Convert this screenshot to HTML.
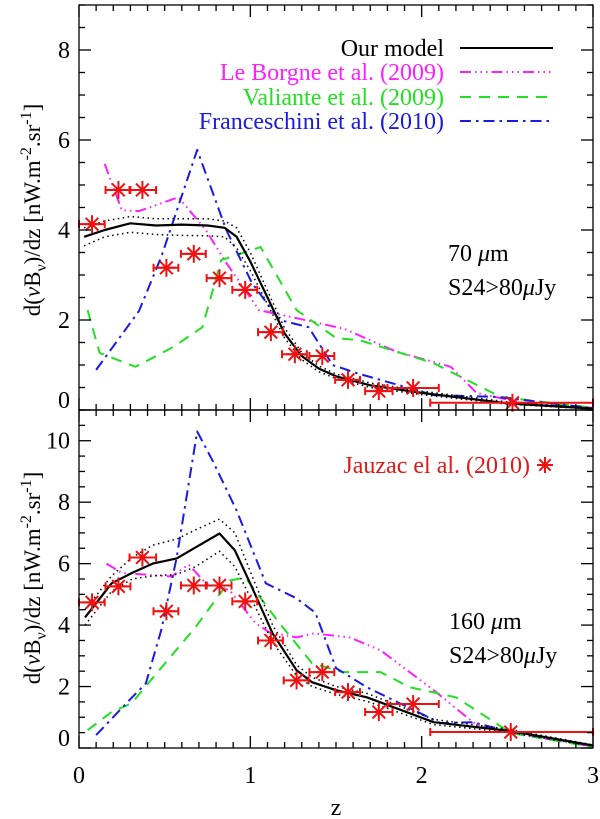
<!DOCTYPE html>
<html><head><meta charset="utf-8">
<style>
html,body{margin:0;padding:0;background:#fff;}
svg{display:block;font-family:"Liberation Serif",serif;}
</style></head>
<body>
<svg id="chart" width="600" height="819" viewBox="0 0 600 819" xmlns="http://www.w3.org/2000/svg"></svg>
<script>
// ---- Data: top panel (70 um) ----
const topModelZ = [0.03,0.15,0.3,0.45,0.6,0.75,0.85,0.92,1.0,1.1,1.2,1.3,1.4,1.5,1.7,2.0,2.5,3.0];
const topModelV = [3.85,4.0,4.15,4.1,4.12,4.1,4.05,3.85,3.3,2.5,1.7,1.2,0.92,0.75,0.55,0.38,0.15,0.03];
const topModelHi = [4.05,4.2,4.3,4.25,4.25,4.25,4.2,4.05,3.5,2.65,1.82,1.28,0.98,0.8,0.6,0.42,0.18,0.04];
const topModelLo = [3.65,3.85,3.95,3.9,3.88,3.87,3.85,3.6,3.1,2.35,1.6,1.12,0.85,0.7,0.5,0.34,0.13,0.02];
const topLeBorgneZ = [0.15,0.25,0.35,0.58,0.74,0.86,1.05,1.32,1.55,1.85,2.17,2.32,2.6,3.0];
const topLeBorgneV = [5.47,4.44,4.42,4.73,4.0,3.27,2.22,2.0,1.8,1.3,0.96,0.38,0.15,0.05];
const topValianteZ = [0.05,0.12,0.33,0.55,0.72,0.83,1.06,1.27,1.5,1.64,2.07,2.46,3.0];
const topValianteV = [2.22,1.27,0.96,1.4,1.84,3.33,3.62,2.22,1.6,1.55,1.04,0.29,0.05];
const topFranceZ = [0.1,0.35,0.48,0.69,0.86,1.01,1.17,1.34,1.48,1.62,2.07,2.44,3.0];
const topFranceV = [0.89,2.2,3.4,5.78,4.0,2.82,2.0,1.84,1.0,0.82,0.33,0.29,0.04];
const topJauzacZ = [0.076,0.23,0.37,0.51,0.67,0.82,0.97,1.12,1.26,1.42,1.57,1.75,1.95,2.53];
const topJauzacV = [4.13,4.89,4.89,3.16,3.47,2.93,2.67,1.73,1.24,1.2,0.67,0.42,0.49,0.16];
const topJauzacLo = [0.0,0.155,0.295,0.435,0.595,0.745,0.895,1.045,1.185,1.345,1.495,1.67,1.8,2.05];
const topJauzacHi = [0.15,0.3,0.45,0.58,0.74,0.89,1.04,1.19,1.33,1.49,1.64,1.83,2.1,3.0];
// ---- Data: bottom panel (160 um) ----
const botModelZ = [0.035,0.19,0.31,0.43,0.57,0.68,0.82,0.91,1.01,1.13,1.27,1.36,1.5,1.68,2.07,2.52,3.0];
const botModelV = [4.25,5.36,5.7,6.0,6.17,6.53,6.98,6.43,5.23,3.73,2.53,2.14,1.88,1.65,0.84,0.55,0.08];
const botModelHi = [4.5,5.6,6.2,6.6,6.8,7.1,7.45,7.0,5.6,4.0,2.7,2.3,2.0,1.78,0.93,0.6,0.1];
const botModelLo = [4.0,5.1,5.5,5.6,5.65,5.9,6.4,5.9,4.8,3.45,2.35,2.0,1.75,1.52,0.76,0.5,0.06];
const botLeBorgneZ = [0.16,0.25,0.54,0.64,0.74,0.88,1.03,1.11,1.27,1.37,1.58,1.76,2.07,2.32,2.52,3.0];
const botLeBorgneV = [6.0,5.7,5.58,5.97,5.36,5.13,4.06,3.77,3.6,3.73,3.6,3.18,1.88,0.75,0.49,0.05];
const botValianteZ = [0.05,0.19,0.31,0.37,0.68,0.88,0.97,1.17,1.36,1.54,1.76,1.93,2.2,2.38,2.52,3.0];
const botValianteV = [0.58,1.17,1.46,1.88,3.93,5.45,5.55,4.06,2.76,2.47,2.47,1.98,1.65,1.0,0.49,0.03];
const botFranceZ = [0.1,0.31,0.39,0.48,0.57,0.69,0.78,0.92,1.09,1.27,1.38,1.5,1.68,1.87,2.11,2.3,2.52,3.0];
const botFranceV = [0.42,1.65,2.1,3.83,6.2,10.3,9.35,7.73,5.36,4.87,4.4,2.6,1.98,1.46,0.81,0.84,0.52,0.08];
const botJauzacZ = [0.076,0.23,0.37,0.51,0.67,0.82,0.97,1.12,1.27,1.42,1.57,1.75,1.95,2.52];
const botJauzacV = [4.74,5.26,6.2,4.45,5.29,5.29,4.77,3.5,2.2,2.47,1.82,1.17,1.43,0.52];
const botJauzacLo = [0.0,0.155,0.295,0.435,0.595,0.745,0.895,1.045,1.195,1.345,1.495,1.67,1.8,2.05];
const botJauzacHi = [0.15,0.3,0.45,0.58,0.74,0.89,1.04,1.19,1.34,1.49,1.64,1.83,2.1,3.0];
const xTickLabels = ["0","1","2","3"];
const topYTickLabels = ["0","2","4","6","8"];
const botYTickLabels = ["0","2","4","6","8","10"];

const svg = document.getElementById('chart');
const NS = 'http://www.w3.org/2000/svg';
const X0 = 79, X1 = 593;
function xs(z){ return X0 + (z/3)*(X1-X0); }
const topP = {top:5, bottom:410, max:9};
const botP = {top:410, bottom:748, max:11};
function ys(p, v){ return p.bottom - v/p.max*(p.bottom-p.top); }
function mk(tag, attrs, parent){
  const e = document.createElementNS(NS, tag);
  for (const k in attrs) e.setAttribute(k, attrs[k]);
  (parent||svg).appendChild(e);
  return e;
}
function poly(p, zs, vs, color, dash, width, name){
  const pts = zs.map((z,i)=> xs(z).toFixed(1)+','+ys(p,vs[i]).toFixed(1)).join(' ');
  const e = mk('polyline', {points:pts, fill:'none', stroke:color, 'stroke-width':width, 'stroke-dasharray':dash||'none', 'stroke-linejoin':'round'});
  
  
}
function star(cx, cy, r, parent, name){
  const g = mk('g', {stroke:'#f01010', 'stroke-width':2}, parent);
  
  
  for (let k=0;k<4;k++){
    const a = k*Math.PI/4;
    mk('line', {x1:cx-r*Math.cos(a), y1:cy-r*Math.sin(a), x2:cx+r*Math.cos(a), y2:cy+r*Math.sin(a)}, g);
  }
  return g;
}
function jauzac(p, zs, vs, lo, hi, prefix){
  zs.forEach((z,i)=>{
    const cy = ys(p, vs[i]);
    const g = mk('g', {stroke:'#f01010', 'stroke-width':2});
    
    
    mk('line', {x1:xs(lo[i]), y1:cy, x2:xs(hi[i]), y2:cy}, g);
    mk('line', {x1:xs(lo[i]), y1:cy-4, x2:xs(lo[i]), y2:cy+4}, g);
    mk('line', {x1:xs(hi[i]), y1:cy-4, x2:xs(hi[i]), y2:cy+4}, g);
    star(xs(z), cy, 9, g, prefix+'-marker-'+i);
  });
}
function axes(p, labels, name, step){
  const g = mk('g', {stroke:'#000', 'stroke-width':1.3, fill:'none'});
  
  
  mk('rect', {x:X0, y:p.top, width:X1-X0, height:p.bottom-p.top}, g);
  for (let i=0;i<=30;i++){
    const x = xs(i/10), L = (i%10===0)?12:6;
    mk('line', {x1:x, y1:p.bottom, x2:x, y2:p.bottom-L}, g);
    mk('line', {x1:x, y1:p.top, x2:x, y2:p.top+L}, g);
  }
  for (let v=0; v<=p.max+0.001; v+=0.5){
    const y = ys(p, v), major = Math.abs(v/step - Math.round(v/step))<1e-6;
    const L = major?12:6;
    mk('line', {x1:X0, y1:y, x2:X0+L, y2:y}, g);
    mk('line', {x1:X1, y1:y, x2:X1-L, y2:y}, g);
  }
  labels.forEach((t,i)=>{
    const e = mk('text', {x:X0-9, y:ys(p, i*step)+ (i===0? -2: 8), 'text-anchor':'end', 'font-size':24, fill:'#000'});
    e.textContent = t;
    
    
  });
}
function ylabel(cy, name){
  const t = mk('text', {x:0, y:0, transform:'translate(40,'+cy+') rotate(-90)', 'text-anchor':'middle', 'font-size':23, fill:'#000'});
  t.innerHTML = 'd(<tspan font-style="italic">ν</tspan>B<tspan dy="6" font-size="16">ν</tspan><tspan dy="-6">)/dz [nW.m</tspan><tspan dy="-9" font-size="16">-2</tspan><tspan dy="9">.sr</tspan><tspan dy="-9" font-size="16">-1</tspan><tspan dy="9">]</tspan>';
  
  
}
function txt(x,y,s,color,size,anchor,name){
  const e = mk('text', {x:x, y:y, fill:color, 'font-size':size, 'text-anchor':anchor||'start'});
  e.innerHTML = s;
  
  
  return e;
}
const MAG='#ff20ff', GRN='#22e022', BLU='#1a1ae0';
const dMag='11,4,1.5,4,1.5,4,1.5,4', dGrn='11,8', dBlu='11,5,2.5,5', dDot='1.5,3.5';

// top panel
poly(topP, topLeBorgneZ, topLeBorgneV, MAG, dMag, 2, 'top-leborgne-line');
poly(topP, topValianteZ, topValianteV, GRN, dGrn, 2, 'top-valiante-line');
poly(topP, topFranceZ, topFranceV, BLU, dBlu, 2, 'top-franceschini-line');
poly(topP, topModelZ, topModelHi, '#000', dDot, 1.5, 'top-model-upper');
poly(topP, topModelZ, topModelLo, '#000', dDot, 1.5, 'top-model-lower');
poly(topP, topModelZ, topModelV, '#000', null, 2.2, 'top-model-line');
jauzac(topP, topJauzacZ, topJauzacV, topJauzacLo, topJauzacHi, 'top-jauzac');
axes(topP, topYTickLabels, 'top-panel', 2);
ylabel(210, 'top-y-axis-title');

// bottom panel
poly(botP, botLeBorgneZ, botLeBorgneV, MAG, dMag, 2, 'bottom-leborgne-line');
poly(botP, botValianteZ, botValianteV, GRN, dGrn, 2, 'bottom-valiante-line');
poly(botP, botFranceZ, botFranceV, BLU, dBlu, 2, 'bottom-franceschini-line');
poly(botP, botModelZ, botModelHi, '#000', dDot, 1.5, 'bottom-model-upper');
poly(botP, botModelZ, botModelLo, '#000', dDot, 1.5, 'bottom-model-lower');
poly(botP, botModelZ, botModelV, '#000', null, 2.2, 'bottom-model-line');
jauzac(botP, botJauzacZ, botJauzacV, botJauzacLo, botJauzacHi, 'bottom-jauzac');
axes(botP, botYTickLabels, 'bottom-panel', 2);
ylabel(578, 'bottom-y-axis-title');

// x tick labels
xTickLabels.forEach((t,i)=>{
  const e = mk('text', {x:xs(i), y:783, 'text-anchor':'middle', 'font-size':24, fill:'#000'});
  e.textContent = t;
  
  
});
txt(336, 815, 'z', '#000', 24, 'middle', 'x-axis-title');

// legend
const legY = [48, 72, 97, 121];
const legT = ['Our model','Le Borgne et al. (2009)','Valiante et al. (2009)','Franceschini et al. (2010)'];
const legC = ['#000', MAG, GRN, BLU];
const legD = [null, dMag, dGrn, dBlu];
legT.forEach((t,i)=>{
  txt(444, legY[i]+8, t, legC[i], 24, 'end', 'legend-label-'+i);
  const l = mk('line', {x1:460, y1:legY[i], x2:553, y2:legY[i], stroke:legC[i], 'stroke-width':2, 'stroke-dasharray':legD[i]||'none'});
  
  
});
txt(530, 473, 'Jauzac el al. (2010)', '#e01818', 24, 'end', 'legend-jauzac-label');
star(545, 465, 8, svg, 'legend-jauzac-marker');

// annotations
txt(448, 261, '70 <tspan font-style="italic">μ</tspan>m', '#000', 24, 'start', 'top-band-label');
txt(448, 295, 'S24&gt;80<tspan font-style="italic">μ</tspan>Jy', '#000', 24, 'start', 'top-cut-label');
txt(449, 629, '160 <tspan font-style="italic">μ</tspan>m', '#000', 24, 'start', 'bottom-band-label');
txt(449, 663, 'S24&gt;80<tspan font-style="italic">μ</tspan>Jy', '#000', 24, 'start', 'bottom-cut-label');
</script>
</body></html>
